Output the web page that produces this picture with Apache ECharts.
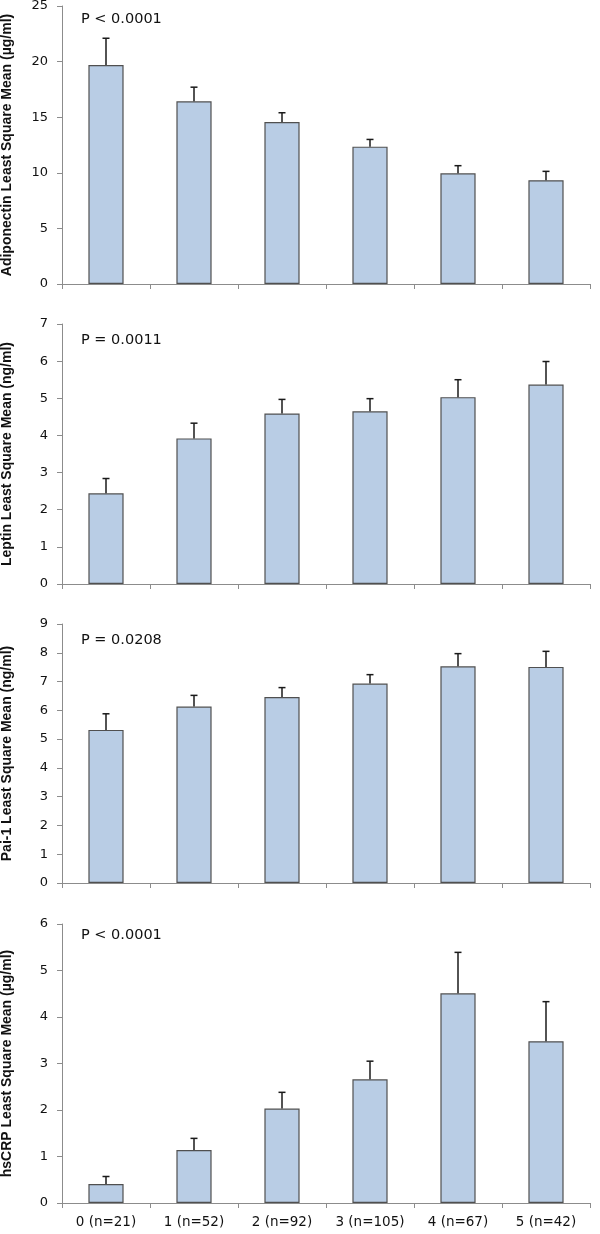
<!DOCTYPE html>
<html><head><meta charset="utf-8">
<script src="https://cdn.jsdelivr.net/npm/echarts@6/dist/echarts.min.js"></script>
<style>html,body{margin:0;padding:0;background:#fff}#c{width:600px;height:1234px}</style>
</head><body><div id="c"></div>
<script>
const categories = ['0 (n=21)', '1 (n=52)', '2 (n=92)', '3 (n=105)', '4 (n=67)', '5 (n=42)'];
const adiponectinMean = [19.7, 16.43, 14.57, 12.35, 9.95, 9.33];
const adiponectinErr  = [2.4, 1.27, 0.83, 0.65, 0.69, 0.8];
const leptinMean = [2.44, 3.92, 4.59, 4.65, 5.03, 5.37];
const leptinErr  = [0.40, 0.41, 0.38, 0.34, 0.47, 0.62];
const pai1Mean = [5.32, 6.13, 6.46, 6.93, 7.53, 7.51];
const pai1Err  = [0.56, 0.39, 0.33, 0.31, 0.44, 0.54];
const hscrpMean = [0.41, 1.14, 2.03, 2.66, 4.51, 3.48];
const hscrpErr  = [0.16, 0.25, 0.35, 0.39, 0.88, 0.85];
const yTitles = [
  'Adiponectin Least Square Mean (\u00b5g/ml)',
  'Leptin Least Square Mean (ng/ml)',
  'Pai-1 Least Square Mean (ng/ml)',
  'hsCRP Least Square Mean (\u00b5g/ml)'
];
const pLabels = ['P < 0.0001', 'P = 0.0011', 'P = 0.0208', 'P < 0.0001'];
const yMax = [25, 7, 9, 6];
const yInterval = [5, 1, 1, 1];

const means = [adiponectinMean, leptinMean, pai1Mean, hscrpMean];
const errs = [adiponectinErr, leptinErr, pai1Err, hscrpErr];

const gridTops = [6, 324, 624, 924];
const gridHeights = [278, 260, 259, 279];
const pY = [21, 342, 642, 937];

const FONT = 'DejaVu Sans';
const axisColor = '#8c8c8c';

const grids = [], xAxes = [], yAxes = [], series = [], graphics = [];
for (let i = 0; i < 4; i++) {
  grids.push({ left: 62, right: 10, top: gridTops[i], height: gridHeights[i], containLabel: false, outerBoundsMode: 'none' });
  xAxes.push({
    type: 'category', gridIndex: i, data: categories,
    axisLine: { lineStyle: { color: axisColor, width: 1 } },
    axisTick: { show: true, length: 5, alignWithLabel: false, lineStyle: { color: axisColor } },
    axisLabel: { show: i === 3, color: '#111', fontFamily: FONT, fontSize: 13.5, margin: 12, interval: 0 },
    splitLine: { show: false }
  });
  yAxes.push({
    type: 'value', gridIndex: i, min: 0, max: yMax[i], interval: yInterval[i],
    name: yTitles[i], nameLocation: 'middle', nameRotate: 90, nameGap: 48,
    nameTextStyle: { fontFamily: 'Liberation Sans', fontWeight: 'bold', fontSize: 14, color: '#111' },
    axisLine: { show: true, lineStyle: { color: axisColor, width: 1 } },
    axisTick: { show: true, length: 5, lineStyle: { color: axisColor } },
    axisLabel: { color: '#111', fontFamily: FONT, fontSize: 13, margin: 14 },
    splitLine: { show: false }
  });
  series.push({
    type: 'bar', xAxisIndex: i, yAxisIndex: i, data: means[i], barWidth: '40%',
    itemStyle: { color: '#B9CDE5', borderColor: '#505050', borderWidth: 1.2 },
    silent: true
  });
  const errData = means[i].map((m, k) => [k, m, errs[i][k]]);
  series.push({
    type: 'custom', xAxisIndex: i, yAxisIndex: i, data: errData, z: 5, silent: true,
    renderItem: function (params, api) {
      const x = api.value(0), m = api.value(1), e = api.value(2);
      const p0 = api.coord([x, m]);
      const p1 = api.coord([x, m + e]);
      const cap = 3.5;
      const st = { stroke: '#1a1a1a', lineWidth: 1.5 };
      return {
        type: 'group',
        children: [
          { type: 'line', shape: { x1: p0[0], y1: p0[1], x2: p1[0], y2: p1[1] }, style: st },
          { type: 'line', shape: { x1: p1[0] - cap, y1: p1[1], x2: p1[0] + cap, y2: p1[1] }, style: st }
        ]
      };
    }
  });
  graphics.push({
    type: 'text', left: 81, top: pY[i] - 9,
    style: { text: pLabels[i], font: '14.5px "' + FONT + '"', fill: '#111' }
  });
}

const chart = echarts.init(document.getElementById('c'), null, { renderer: 'canvas' });
chart.setOption({
  animation: false,
  backgroundColor: '#fff',
  grid: grids, xAxis: xAxes, yAxis: yAxes, series: series, graphic: graphics
});
</script>
</body></html>
